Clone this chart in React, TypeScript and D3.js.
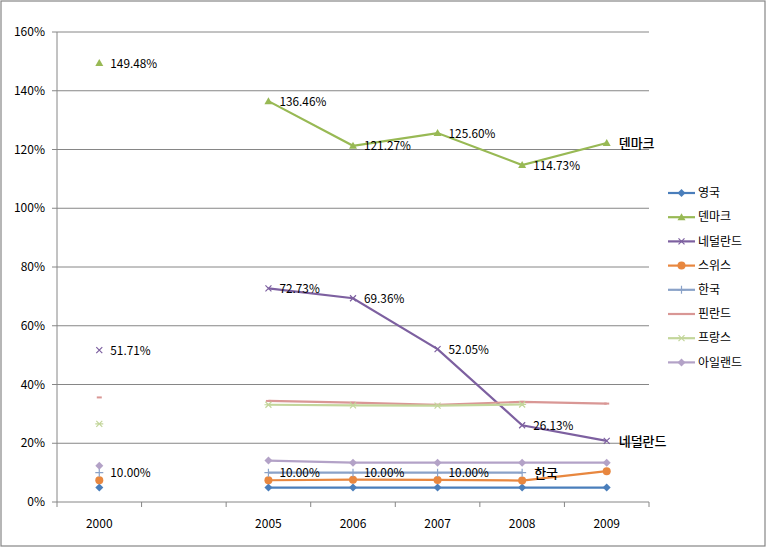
import * as d3 from "d3";

const categories = ["2000", "", "2005", "2006", "2007", "2008", "2009"];
const yTicks = [0, 20, 40, 60, 80, 100, 120, 140, 160];

const uk = [4.9, null, 4.9, 4.9, 4.9, 4.9, 4.9];
const denmark = [149.48, null, 136.46, 121.27, 125.6, 114.73, 122.2];
const netherlands = [51.71, null, 72.73, 69.36, 52.05, 26.13, 20.8];
const swiss = [7.4, null, 7.4, 7.6, 7.5, 7.3, 10.5];
const korea = [10.0, null, 10.0, 10.0, 10.0, 10.0, null];
const finland = [35.6, null, 34.4, 33.8, 33.1, 34.1, 33.5];
const france = [26.6, null, 33.1, 32.9, 32.8, 33.2, null];
const ireland = [12.3, null, 14.1, 13.4, 13.4, 13.4, 13.4];

type Shape = "diamond" | "triangle" | "x" | "circle" | "plus" | "dash" | "star";

const series: { name: string; values: (number | null)[]; color: string; shape: Shape; labels: number[]; endLabel?: number }[] = [
  { name: "영국", values: uk, color: "#4A7EBB", shape: "diamond", labels: [] },
  { name: "덴마크", values: denmark, color: "#98B954", shape: "triangle", labels: [0, 2, 3, 4, 5], endLabel: 6 },
  { name: "네덜란드", values: netherlands, color: "#7D60A0", shape: "x", labels: [0, 2, 3, 4, 5], endLabel: 6 },
  { name: "스위스", values: swiss, color: "#E8873F", shape: "circle", labels: [] },
  { name: "한국", values: korea, color: "#8AA2C8", shape: "plus", labels: [0, 2, 3, 4], endLabel: 5 },
  { name: "핀란드", values: finland, color: "#D99795", shape: "dash", labels: [] },
  { name: "프랑스", values: france, color: "#C3D69B", shape: "star", labels: [] },
  { name: "아일랜드", values: ireland, color: "#B3A2C7", shape: "diamond", labels: [] },
];

const W = 767;
const H = 548;
const margin = { left: 57, right: 118, top: 32, bottom: 46 };
const FONT = "'Noto Sans CJK KR', 'Noto Sans', sans-serif";

function Marker({ shape, x, y, color }: { shape: Shape; x: number; y: number; color: string }) {
  switch (shape) {
    case "diamond":
      return <path d={`M${x},${y - 4}L${x + 4},${y}L${x},${y + 4}L${x - 4},${y}Z`} fill={color} />;
    case "triangle":
      return <path d={`M${x},${y - 4}L${x + 4},${y + 3}L${x - 4},${y + 3}Z`} fill={color} />;
    case "circle":
      return <circle cx={x} cy={y} r={4} fill={color} />;
    case "x":
      return <path d={`M${x - 3},${y - 3}L${x + 3},${y + 3}M${x + 3},${y - 3}L${x - 3},${y + 3}`} stroke={color} strokeWidth={1.2} />;
    case "plus":
      return <path d={`M${x - 4},${y}L${x + 4},${y}M${x},${y - 4}L${x},${y + 4}`} stroke={color} strokeWidth={1.2} />;
    case "dash":
      return <path d={`M${x - 2.5},${y}L${x + 2.5},${y}`} stroke={color} strokeWidth={2} />;
    case "star":
      return (
        <path
          d={`M${x - 4},${y}L${x + 4},${y}M${x - 3},${y - 3}L${x + 3},${y + 3}M${x + 3},${y - 3}L${x - 3},${y + 3}`}
          stroke={color}
          strokeWidth={1.2}
        />
      );
  }
}

export default function App() {
  const x = d3
    .scaleBand<string>()
    .domain(categories.map((c, i) => String(i)))
    .range([margin.left, W - margin.right]);
  const y = d3.scaleLinear().domain([0, 160]).range([H - margin.bottom, margin.top]);
  const cx = (i: number) => (x(String(i)) ?? 0) + x.bandwidth() / 2;

  const line = d3
    .line<number | null>()
    .defined((d) => d != null)
    .x((_, i) => cx(i))
    .y((d) => y(d as number));

  const fmt = (v: number) => `${v.toFixed(2)}%`;
  const bottom = H - margin.bottom;

  return (
    <div style={{ position: "absolute", left: 0, top: 0 }}>
      <svg width={W} height={H} style={{ fontFamily: FONT, display: "block" }}>
        <rect x={0} y={0} width={W} height={H} fill="#fff" />
        <rect x={1} y={1} width={W - 3} height={H - 3} fill="none" stroke="#868686" strokeWidth={1.2} />

        {yTicks.map((t) => (
          <g key={t}>
            {t > 0 && (
              <line x1={margin.left} x2={W - margin.right} y1={y(t)} y2={y(t)} stroke="#868686" strokeWidth={1} />
            )}
            <line x1={margin.left - 5} x2={margin.left} y1={y(t)} y2={y(t)} stroke="#868686" />
            <text x={margin.left - 12} y={y(t)} dy="0.35em" textAnchor="end" fontSize={12} fill="#000">
              {`${t}%`}
            </text>
          </g>
        ))}
        <line x1={margin.left} x2={margin.left} y1={margin.top} y2={bottom} stroke="#868686" />
        <line x1={margin.left} x2={W - margin.right} y1={bottom} y2={bottom} stroke="#868686" />
        {categories.map((c, i) => (
          <g key={i}>
            <line
              x1={(x(String(i)) ?? 0) + x.bandwidth()}
              x2={(x(String(i)) ?? 0) + x.bandwidth()}
              y1={bottom}
              y2={bottom + 5}
              stroke="#868686"
            />
            <text x={cx(i)} y={bottom + 26} textAnchor="middle" fontSize={12} fill="#000">
              {c}
            </text>
          </g>
        ))}
        <line x1={margin.left} x2={margin.left} y1={bottom} y2={bottom + 5} stroke="#868686" />

        {series.map((s) => (
          <g key={s.name}>
            <path d={line(s.values) ?? ""} fill="none" stroke={s.color} strokeWidth={2.2} />
            {s.values.map((v, i) =>
              v == null ? null : <Marker key={i} shape={s.shape} x={cx(i)} y={y(v)} color={s.color} />
            )}
          </g>
        ))}

        {series.map((s) => (
          <g key={s.name + "-labels"}>
            {s.labels.map((i) => (
              <text key={i} x={cx(i) + 11} y={y(s.values[i] as number)} dy="0.4em" fontSize={11.8} fill="#000">
                {fmt(s.values[i] as number)}
              </text>
            ))}
            {s.endLabel != null && (
              <text
                x={cx(s.endLabel) + 12}
                y={y(s.values[s.endLabel] as number)}
                dy="0.4em"
                fontSize={13}
                fontWeight={500}
                fill="#000"
              >
                {s.name}
              </text>
            )}
          </g>
        ))}

        {series.map((s, i) => {
          const ly = 193 + i * 24.2;
          return (
            <g key={s.name + "-legend"}>
              <line x1={668} x2={695} y1={ly} y2={ly} stroke={s.color} strokeWidth={2.2} />
              <Marker shape={s.shape} x={681.5} y={ly} color={s.color} />
              <text x={698} y={ly} dy="0.35em" fontSize={12} fill="#000">
                {s.name}
              </text>
            </g>
          );
        })}
      </svg>
    </div>
  );
}
